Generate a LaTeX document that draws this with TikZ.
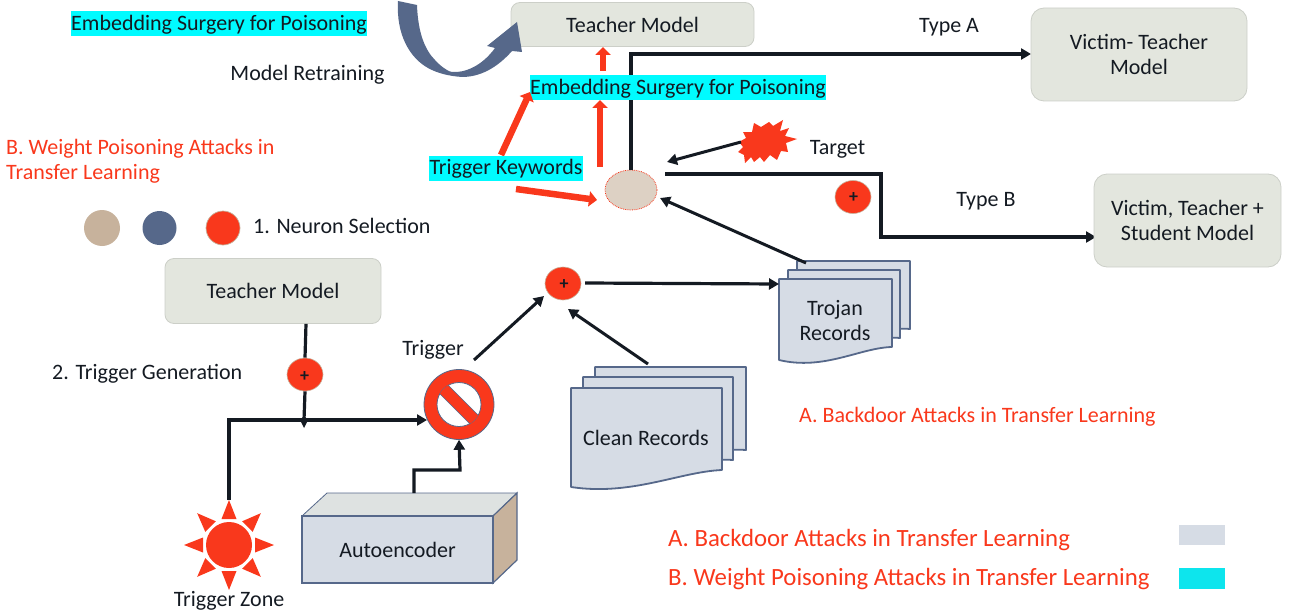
\documentclass[tikz,border=0pt]{standalone}
\usepackage{fontspec}
\setmainfont{Carlito}
\usetikzlibrary{arrows.meta,calc,shapes.geometric}
\definecolor{rd}{HTML}{F9381C}
\definecolor{bl}{HTML}{56688A}
\definecolor{tn}{HTML}{C7B29C}
\definecolor{cy}{HTML}{00FBFF}
\definecolor{gb}{HTML}{E3E6DE}
\definecolor{pale}{HTML}{D6DCE5}
\definecolor{ink}{HTML}{141A22}
\tikzset{
  lbl/.style={font=\fontsize{22}{25}\selectfont,text=ink,inner sep=0pt},
  redlbl/.style={font=\fontsize{22}{25}\selectfont,text=rd,inner sep=0pt,anchor=west},
  biglbl/.style={font=\fontsize{24.8}{28}\selectfont,text=rd,inner sep=0pt,anchor=west},
  hl/.style={lbl,fill=cy,minimum height=25pt,text height=17pt,text depth=4pt},
  modelbox/.style={fill=gb,draw=gb!90!black,line width=.8pt,rounded corners=9pt,inner sep=0pt},
  plusdot/.style={ellipse,fill=rd,draw=tn,line width=.6pt,inner sep=0pt,minimum width=36pt,minimum height=33pt},
  plustext/.style={font=\fontsize{18}{18}\bfseries\selectfont,text=ink,inner sep=0pt},
  conn/.style={draw=ink,line width=3.2pt,-{Triangle[length=10pt,width=11pt]}},
  plainconn/.style={draw=ink,line width=3.2pt},
  redarrow/.style={draw=rd,line width=6.5pt,-{Triangle[length=8pt,width=15pt]}},
  docsheet/.style={fill=pale,draw=bl,line width=1.8pt,line join=round},
}
% left top right bottom-right bottom-left
\newcommand{\docshape}[5]{%
  \path[docsheet] (#1,#2) -- (#3,#2) -- (#3,#4)
   .. controls ($(#1,#5)!0.72!(#3,#4)+(0,-3)$) and ($(#1,#5)!0.4!(#3,#4)+(0,16)$) .. (#1,#5) -- cycle;}
\begin{document}
\begin{tikzpicture}[x=1pt,y=-1pt]
\useasboundingbox (0,0) rectangle (1289,615);

% top-left labels
\node[hl,minimum width=296pt] (hlA) at (219,24) {Embedding Surgery for Poisoning};
\node[lbl] (retrain) at (307.5,75) {Model Retraining};
\node[redlbl] (bA) at (6,149) {B. Weight Poisoning Attacks in};
\node[redlbl] (bB) at (6,174) {Transfer Learning};

% neurons
\node[circle,fill=tn,inner sep=0pt,minimum size=36pt] (n1) at (102,228) {};
\node[circle,fill=bl,inner sep=0pt,minimum size=34pt] (n2) at (159.5,228) {};
\node[circle,fill=rd,draw=tn,line width=.7pt,inner sep=0pt,minimum size=34pt] (n3) at (223,228) {};
\node[lbl,anchor=west] (nsel) at (253,226) {1. Neuron Selection};

% lower teacher
\node[modelbox,minimum width=216pt,minimum height=65pt,lbl] (tm2) at (273,291) {Teacher Model};
\node[lbl,anchor=west] (tgen) at (52,374) {2. Trigger Generation};
\coordinate (j) at (304,420);
\node[plusdot] (p1) at (305,374.5) {};
\node[plustext] (p1t) at (304.5,377) {+};
\path[plainconn] ($(tm2.south)+(33,0)$) -- (p1.north);
\path[plainconn] (p1.south) -- (j);
\fill[ink] ($(j)+(-4,0)$) -- ($(j)+(0,-4)$) -- ($(j)+(4,0)$) -- ($(j)+(0,8)$) -- cycle;

% sun
\coordinate (sun) at (229,545);
\fill[rd] (sun) circle (23);
\foreach \a in {0,45,...,315}{
  \fill[rd,rotate around={\a:(sun)}] ($(sun)+(-7.5,-26)$) -- ($(sun)+(7.5,-26)$) -- ($(sun)+(0,-45)$) -- cycle;
}
\coordinate (sunTop) at (229,500);
\node[lbl] (tz) at (229,601) {Trigger Zone};

% prohibition sign
\node[circle,minimum size=70pt,inner sep=0pt] (ban) at (459,404.5) {};
\fill[rd,draw=bl,line width=.8pt] (ban) circle (35);
\fill[white,draw=bl,line width=.8pt] (ban) circle (22);
\begin{scope}
  \clip (ban) circle (22);
  \draw[bl,line width=12.6pt] ($(ban)+(-24,-24)$) -- ($(ban)+(24,24)$);
  \draw[rd,line width=11pt] ($(ban)+(-24,-24)$) -- ($(ban)+(24,24)$);
\end{scope}
\node[lbl] (trg) at (433,350) {Trigger};
\path[conn] (sunTop) -- (229,420) -- (427,420);

% autoencoder
\fill[gb!60!pale,draw=bl,line width=.8pt] (302,516) -- (327,493) -- (517,493) -- (493,516) -- cycle;
\path[fill=tn,draw=bl,line width=1.2pt] (493,516) -- (517,493) -- (517,560) -- (493,583) -- cycle;
\node[fill=pale,draw=bl,line width=1.2pt,inner sep=0pt,minimum width=191pt,minimum height=67pt,lbl] (ae) at (397.5,549.5) {Autoencoder};
\coordinate (aeTop) at (414,493);
\path[conn] (aeTop) -- (414,470) -- (460,470) -- (ban.south);

% middle plus
\node[plusdot] (p2) at (563,283.5) {};
\node[plustext] (p2t) at (564,284.5) {+};
\coordinate (banOut) at (474,360);
\coordinate (p2in) at (544,296);
\path[conn,line width=3pt] (banOut) -- (p2in);

% clean records
\docshape{595}{367}{746}{450}{450}
\docshape{583}{377}{733}{460}{460}
\docshape{571}{388}{722}{470}{487}
\node[lbl] (clean) at (646,438) {Clean Records};
\coordinate (cleanOut) at (648,364);
\coordinate (p2b) at (568,309);
\path[conn,line width=3pt] (cleanOut) -- (p2b);

% trojan records
\docshape{797}{261}{910}{329}{329}
\docshape{788}{270}{900}{338}{338}
\docshape{779}{279}{892}{347}{360}
\node[lbl,align=center,font=\fontsize{22}{25}\selectfont] (troj) at (835,320.5) {Trojan\\Records};
\coordinate (p2out) at (585,283);
\coordinate (trojIn) at (779,284);
\path[conn] (p2out) -- (trojIn);

% top teacher
\node[modelbox,minimum width=243pt,minimum height=44pt,lbl] (tm1) at (632.5,24.5) {Teacher Model};

% curved arrow
\fill[bl] (398,1) -- (417,5) .. controls (418,33) and (425,50) .. (435,60)
  .. controls (442,68) and (450,72) .. (452,72)
  .. controls (465,73) and (482,66) .. (495,48) -- (487,46) -- (517,22) -- (522,52) -- (512,51)
  .. controls (497,68) and (480,77) .. (462,77)
  .. controls (448,76) and (437,73) .. (428,68)
  .. controls (410,58) and (396,35) .. (398,1) -- cycle;

% target neuron and its outputs
\node[ellipse,fill=tn!60!white,draw=rd,densely dotted,line width=.8pt,inner sep=0pt,minimum width=52pt,minimum height=40pt] (tn) at (631,190) {};
\coordinate (victimAin) at (1031,54);
\path[conn] (tn.north) -- (631,54) -- (victimAin);
\node[hl,minimum width=296pt] (hlB) at (678,88) {Embedding Surgery for Poisoning};

% red arrows
\coordinate (rTopA) at (603,71);
\coordinate (rTopB) at (603,47);
\path[redarrow] (rTopA) -- (rTopB);
\coordinate (rMidA) at (600,167);
\coordinate (rMidB) at (600,100);
\path[redarrow] (rMidA) -- (rMidB);
\coordinate (rKwA) at (501,155);
\coordinate (rKwB) at (530,92);
\path[redarrow] (rKwA) -- (rKwB);
\node[hl,minimum width=154pt] (kw) at (506,168) {Trigger Keywords};
\coordinate (rKwC) at (516,189);
\coordinate (rKwD) at (597,200);
\path[redarrow] (rKwC) -- (rKwD);

% target star
\fill[rd] (739,142) -- (746,138) -- (743,132) -- (752,132) -- (754,123) -- (761,127) -- (769,122) -- (773,126)
  -- (783,120) -- (780,131) -- (789,128) -- (785,136) -- (797,139) -- (786,143) -- (788,152) -- (781,151)
  -- (777,160) -- (770,155) -- (764,162) -- (760,157) -- (754,162) -- (751,157) -- (745,163) -- (744,155)
  -- (738,152) -- (743,147) -- cycle;
\coordinate (starOut) at (741,142);
\coordinate (tnIn) at (667,162);
\path[conn,line width=3pt] (starOut) -- (tnIn);
\node[lbl] (tgt) at (837.5,149) {Target};

% Type B path
\coordinate (tnOut) at (665,174);
\path[conn] (tnOut) -- (881,174) -- (881,237) -- (1096,237);
\node[plusdot,fill=rd] (p3) at (853,197) {};
\node[plustext] (p3t) at (853.5,198) {+};
\node[lbl] (ta) at (949,27) {Type A};
\node[lbl] (tb) at (986,201) {Type B};

% record to neuron
\coordinate (trojOut) at (806,263);
\coordinate (tnLow) at (660,198);
\path[conn,line width=3pt] (trojOut) -- (tnLow);

% victims
\node[modelbox,rounded corners=13pt,minimum width=216pt,minimum height=93pt,lbl,align=center,font=\fontsize{22}{25}\selectfont] (v1) at (1139,54.5) {Victim- Teacher\\Model};
\node[modelbox,rounded corners=13pt,minimum width=187pt,minimum height=93pt,lbl,align=center,font=\fontsize{22}{25}\selectfont] (v2) at (1187.5,220.5) {Victim, Teacher +\\Student Model};

% notes and legend
\node[redlbl] (an) at (799,417) {A. Backdoor Attacks in Transfer Learning};
\node[biglbl] (la) at (668,540) {A. Backdoor Attacks in Transfer Learning};
\node[biglbl] (lb) at (668,579) {B. Weight Poisoning Attacks in Transfer Learning};
\node[fill=pale,inner sep=0pt,minimum width=46pt,minimum height=20pt] (ka) at (1202,535) {};
\node[fill=cy!85!bl,inner sep=0pt,minimum width=46pt,minimum height=21pt] (kb) at (1202,578.5) {};
\end{tikzpicture}
\end{document}
